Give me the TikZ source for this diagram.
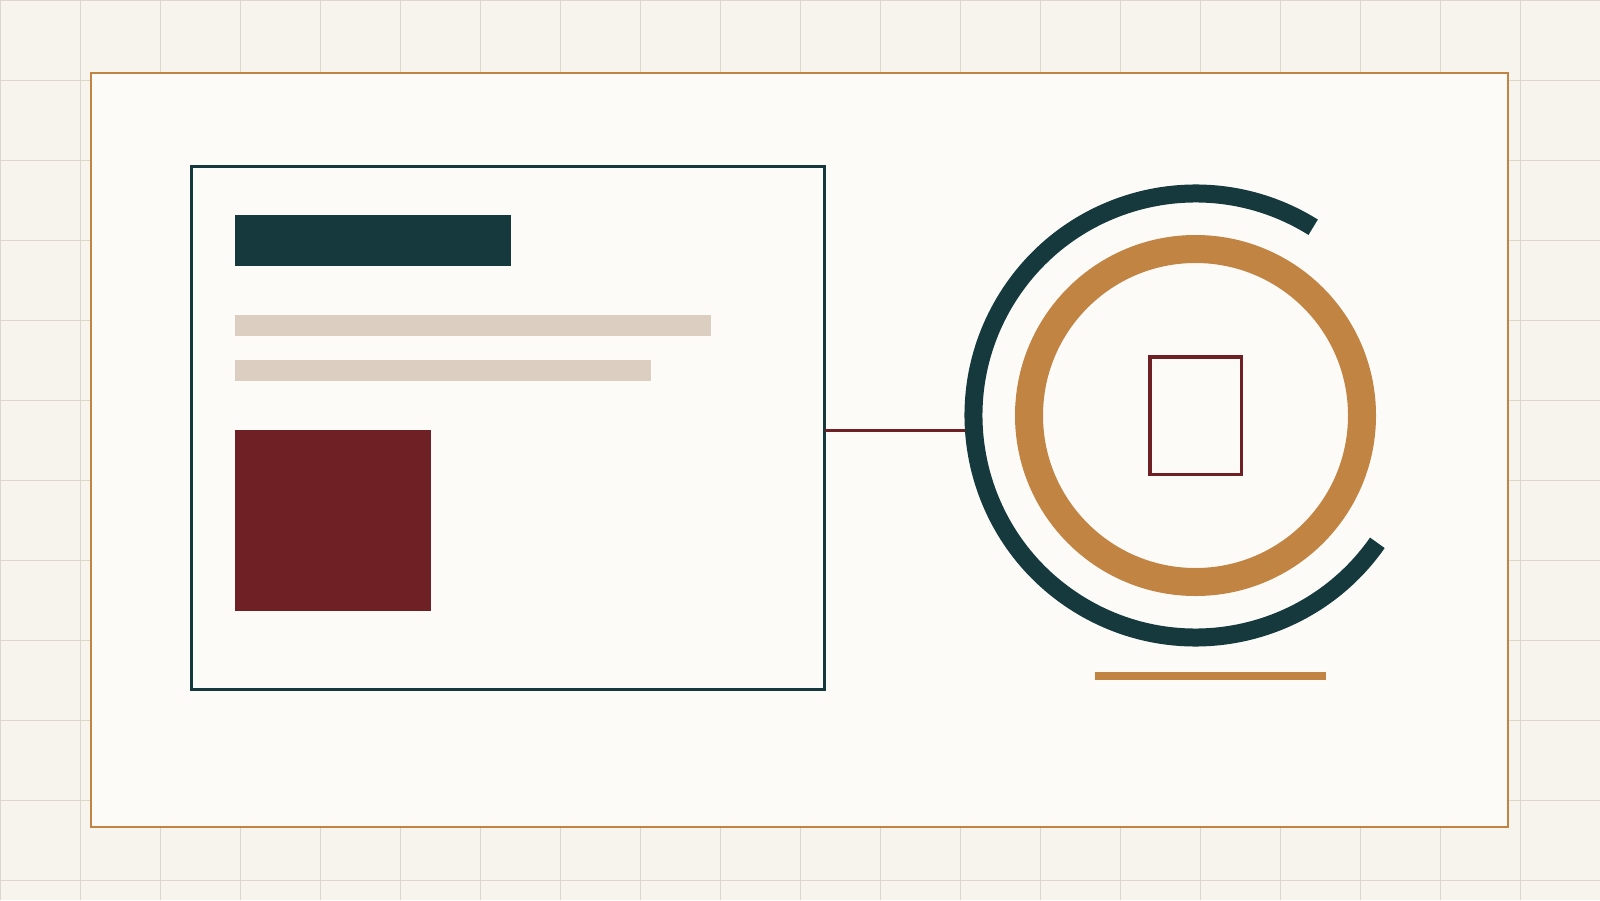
\documentclass[tikz,border=0pt]{standalone}
\definecolor{bgc}{HTML}{F7F4EE}
\definecolor{gridc}{HTML}{DED6CC}
\definecolor{paper}{HTML}{FCFBF8}
\definecolor{dteal}{HTML}{15393D}
\definecolor{wine}{HTML}{6E2024}
\definecolor{ochre}{HTML}{C18443}
\definecolor{sand}{HTML}{DCCFC1}
\tikzset{
  gridline/.style={gridc, line width=1},
  cardbox/.style={draw=dteal, line width=3, inner sep=0, outer sep=0, fill=none},
  iconbox/.style={draw=wine, line width=3.5, inner sep=0, outer sep=0},
  link/.style={wine, line width=2.5},
}
\begin{document}
\begin{tikzpicture}[x=1pt,y=-1pt]
\fill[bgc] (0,0) rectangle (1600,900);
\useasboundingbox (0,0) rectangle (1600,900);
\foreach \gx in {0,80,...,1600} \draw[gridline] (\gx,0) -- (\gx,900);
\foreach \gy in {0,80,...,880} \draw[gridline] (0,\gy) -- (1600,\gy);
% frame
\draw[ochre, line width=2, fill=paper] (91,73) rectangle (1508,827);
% card
\node[cardbox, minimum width=633, minimum height=523, anchor=north west] (card) at (191.5,166.5) {};
\fill[dteal] (235,215) rectangle (511,266);
\fill[sand] (235,315) rectangle (711,336);
\fill[sand] (235,360) rectangle (651,381);
\fill[wine] (235,430) rectangle (431,611);
% emblem
\coordinate (c) at (1195.5,415.5);
\draw[ochre, line width=28] (c) circle[radius=166.5pt];
\draw[dteal, line width=18] ([shift={(58:222pt)}]c) arc[start angle=58, end angle=325, radius=222pt];
\node[iconbox, minimum width=91.5, minimum height=117.5] (icon) at (c) {};
\draw[ochre, line width=8] (1095,676) -- (1326,676);
% connector
\coordinate (arcL) at (965,430.5);
\draw[link] (card.east |- arcL) -- (arcL);
\end{tikzpicture}
\end{document}
